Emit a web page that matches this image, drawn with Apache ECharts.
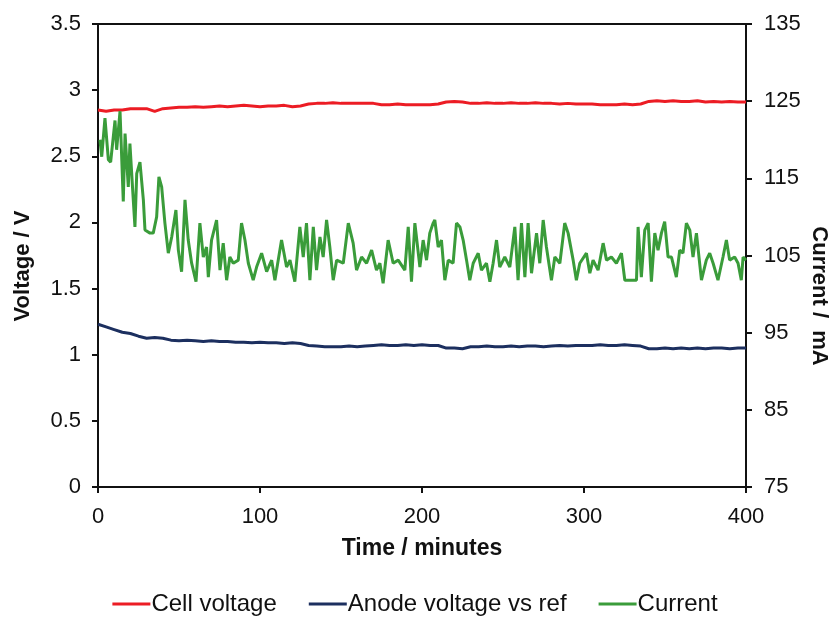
<!DOCTYPE html>
<html>
<head>
<meta charset="utf-8">
<script src="https://cdn.jsdelivr.net/npm/echarts@6/dist/echarts.min.js"></script>
<style>
html,body{margin:0;padding:0;background:#fff;}
#chart{width:830px;height:621px;}
</style>
</head>
<body>
<div id="chart"></div>
<script>
// ---- data ----
const xTicks = [0, 100, 200, 300, 400];
const leftTicks = [0, 0.5, 1, 1.5, 2, 2.5, 3, 3.5];
const rightTicks = [75, 85, 95, 105, 115, 125, 135];
const seriesNames = ['Cell voltage', 'Anode voltage vs ref', 'Current'];

const voltTime = [0,5,10,15,20,25,30,35,40,45,50,55,60,65,70,75,80,85,90,95,100,105,110,115,120,125,130,135,140,145,150,155,160,165,170,175,180,185,190,195,200,205,210,215,220,225,230,235,240,245,250,255,260,265,270,275,280,285,290,295,300,305,310,315,320,325,330,335,340,345,350,355,360,365,370,375,380,385,390,395,400];

const cellVoltage = [2.85,2.84,2.85,2.85,2.86,2.86,2.86,2.84,2.86,2.865,2.87,2.87,2.875,2.87,2.875,2.88,2.875,2.88,2.885,2.88,2.875,2.88,2.88,2.885,2.875,2.88,2.895,2.9,2.9,2.905,2.9,2.9,2.9,2.9,2.9,2.89,2.89,2.895,2.89,2.89,2.89,2.89,2.895,2.91,2.915,2.91,2.9,2.9,2.905,2.9,2.9,2.905,2.9,2.9,2.905,2.9,2.9,2.895,2.9,2.895,2.895,2.895,2.89,2.89,2.89,2.895,2.89,2.895,2.915,2.92,2.915,2.92,2.915,2.915,2.92,2.91,2.915,2.91,2.915,2.91,2.91];

const anodeVoltage = [1.23,1.21,1.19,1.17,1.16,1.14,1.125,1.13,1.125,1.11,1.105,1.11,1.105,1.1,1.105,1.1,1.1,1.095,1.095,1.09,1.095,1.09,1.09,1.085,1.09,1.085,1.07,1.065,1.06,1.06,1.06,1.065,1.06,1.065,1.07,1.075,1.07,1.07,1.075,1.07,1.075,1.07,1.07,1.05,1.05,1.045,1.06,1.06,1.065,1.06,1.06,1.065,1.06,1.065,1.065,1.06,1.065,1.07,1.065,1.07,1.07,1.07,1.075,1.07,1.07,1.075,1.07,1.065,1.045,1.045,1.05,1.045,1.05,1.045,1.05,1.045,1.05,1.05,1.045,1.05,1.05];

const currentTime = [1.2,2.3,4.3,6.4,7.8,10.5,11.5,13.6,15.6,16.7,18.7,19.7,21.4,22.8,23.9,25.9,28.0,29.0,30.0,32.1,34.1,36.2,37.6,39.3,41.3,43.4,45.5,48.1,49.6,51.6,53.7,55.7,57.8,60.5,62.9,65.0,67.0,68.1,70.1,73.2,75.3,77.3,79.4,81.4,83.5,86.6,88.6,90.7,92.8,95.8,97.9,101.0,104.1,107.2,109.2,113.3,116.4,118.5,121.5,124.6,126.7,128.7,130.8,132.9,134.9,137.0,139.0,141.1,143.1,145.2,147.3,151.4,154.5,157.5,159.6,162.7,165.8,168.9,171.9,174.0,176.0,179.1,182.2,185.3,189.4,191.5,193.5,195.6,198.7,200.7,202.8,204.8,206.9,207.9,210.0,212.0,214.1,216.2,219.2,221.3,223.4,225.4,227.5,229.5,231.6,234.7,236.7,239.8,241.9,243.9,246.0,248.0,251.1,254.2,257.3,259.3,261.4,263.5,265.5,267.6,270.7,272.7,274.8,276.8,279.9,282.0,285.1,288.1,290.2,293.3,295.3,297.4,301.5,303.6,305.6,308.7,311.8,313.9,316.9,320.0,323.1,325.2,332.4,333.4,335.4,337.5,339.6,341.6,343.7,345.7,347.8,349.8,351.9,354.0,357.0,359.1,361.1,363.2,365.3,367.3,369.4,372.5,375.5,377.6,379.7,382.7,385.8,387.9,389.9,393.0,395.1,397.1,398.2,400];

const currentMA = [120.0,117.8,122.8,117.4,117.1,122.5,118.7,123.7,112.0,120.8,113.9,119.5,113.5,108.7,115.6,117.1,112.2,108.3,108.3,107.9,107.9,110.0,115.2,113.9,109.2,105.3,107.4,110.9,105.7,102.9,112.2,107.0,104.0,101.6,109.2,104.8,106.1,102.2,107.0,109.6,103.1,106.6,101.8,104.8,104.0,104.4,109.2,107.0,104.0,101.8,103.5,105.3,102.9,104.4,101.8,107.0,103.5,104.4,101.6,108.7,104.8,109.2,101.8,108.7,103.1,107.4,104.8,109.6,106.1,101.8,104.4,104.0,109.2,106.6,103.1,104.8,104.0,105.7,103.1,104.0,101.4,107.0,104.0,104.4,103.1,108.7,101.6,109.2,103.5,107.0,104.4,107.9,109.2,109.6,106.1,107.0,101.8,104.4,104.0,109.2,108.7,107.0,104.4,101.8,104.0,105.3,103.1,104.0,101.6,104.0,107.0,103.5,104.8,103.5,108.7,101.8,109.2,102.2,109.2,102.7,107.9,104.0,109.6,106.1,101.8,104.8,104.0,109.2,107.9,104.4,101.8,104.0,105.3,102.7,104.4,103.1,106.6,104.4,104.8,104.0,105.3,101.8,101.8,108.7,102.2,108.3,109.2,101.6,107.9,105.7,107.9,109.4,104.8,104.8,102.2,105.7,105.3,109.2,108.3,104.8,107.9,101.8,104.4,105.3,104.0,101.8,104.8,107.0,104.4,104.8,104.0,101.8,104.8,104.4];

// ---- chart ----
const FONT = '"Liberation Sans", Arial, sans-serif';
const chart = echarts.init(document.getElementById('chart'), null, {renderer: 'canvas'});
const pairs = (xs, ys) => xs.map((x, i) => [x, ys[i]]);

const axisCommon = {
  axisLine: {show: true, lineStyle: {color: '#111', width: 2}},
  axisTick: {show: true, inside: false, length: 6, lineStyle: {color: '#111', width: 2}},
  splitLine: {show: false},
  axisLabel: {color: '#111', fontSize: 22, fontFamily: FONT}
};

chart.setOption({
  backgroundColor: '#ffffff',
  animation: false,
  grid: {left: 98, right: 84, top: 24, bottom: 134, show: true, borderColor: '#111', borderWidth: 2, backgroundColor: 'transparent'},
  xAxis: Object.assign({}, axisCommon, {
    type: 'value', min: xTicks[0], max: xTicks[xTicks.length - 1], interval: 100,
    name: 'Time / minutes', nameLocation: 'middle', nameGap: 50,
    nameTextStyle: {color: '#111', fontSize: 23, fontWeight: 'bold', fontFamily: FONT},
    axisLabel: Object.assign({}, axisCommon.axisLabel, {margin: 19})
  }),
  yAxis: [
    Object.assign({}, axisCommon, {
      type: 'value', min: leftTicks[0], max: leftTicks[leftTicks.length - 1], interval: 0.5,
      axisLabel: Object.assign({}, axisCommon.axisLabel, {margin: 17})
    }),
    Object.assign({}, axisCommon, {
      type: 'value', position: 'right', min: rightTicks[0], max: rightTicks[rightTicks.length - 1], interval: 10,
      axisLabel: Object.assign({}, axisCommon.axisLabel, {margin: 18})
    })
  ],
  legend: {
    bottom: 0, left: 'center', itemGap: 32, itemWidth: 38, itemHeight: 3, icon: 'rect',
    textStyle: {color: '#111', fontSize: 24, fontFamily: FONT, padding: [0, 0, 0, -4]},
    data: seriesNames
  },
  graphic: [
    {type: 'text', x: 23, y: 266, rotation: Math.PI / 2,
      style: {text: 'Voltage / V', font: 'bold 22px ' + FONT, fill: '#111', align: 'center', verticalAlign: 'middle'}},
    {type: 'text', x: 819, y: 296, rotation: -Math.PI / 2,
      style: {text: 'Current /  mA', font: 'bold 22px ' + FONT, fill: '#111', align: 'center', verticalAlign: 'middle'}}
  ],
  series: [
    {name: seriesNames[0], type: 'line', yAxisIndex: 0, showSymbol: false, symbol: 'none',
      lineStyle: {color: '#ec1c24', width: 3}, itemStyle: {color: '#ec1c24'},
      data: pairs(voltTime, cellVoltage)},
    {name: seriesNames[1], type: 'line', yAxisIndex: 0, showSymbol: false, symbol: 'none',
      lineStyle: {color: '#1c2f5f', width: 3}, itemStyle: {color: '#1c2f5f'},
      data: pairs(voltTime, anodeVoltage)},
    {name: seriesNames[2], type: 'line', yAxisIndex: 1, showSymbol: false, symbol: 'none',
      lineStyle: {color: '#3a9c3a', width: 3}, itemStyle: {color: '#3a9c3a'},
      data: pairs(currentTime, currentMA)}
  ]
});
</script>
</body>
</html>
